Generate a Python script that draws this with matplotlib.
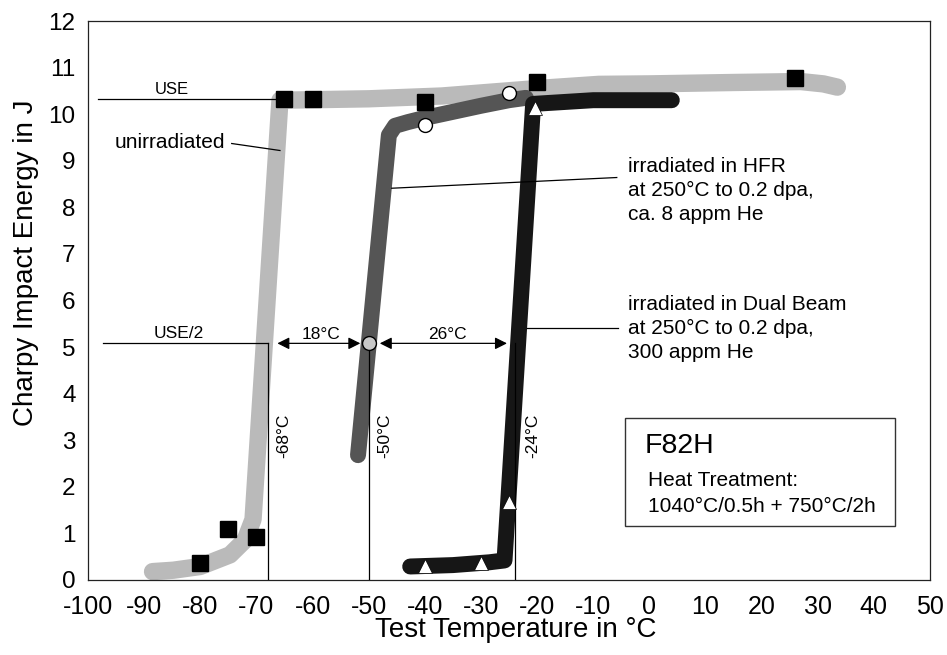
import matplotlib
matplotlib.use("Agg")
import matplotlib.pyplot as plt
from matplotlib.patches import Rectangle

plt.rcParams['font.family'] = ['Liberation Sans', 'DejaVu Sans']
plt.rcParams['axes.unicode_minus'] = False

# Charpy test results (temperature in °C, absorbed energy in J)
unirr_T = [-80, -75, -70, -65, -60, -40, -20, 26]
unirr_E = [0.37, 1.09, 0.92, 10.33, 10.33, 10.27, 10.70, 10.78]

hfr_T = [-40, -25]
hfr_E = [9.77, 10.45]

dual_T = [-40, -30, -25, -20.4]
dual_E = [0.29, 0.36, 1.67, 10.13]

# Smoothed transition curves drawn as thick bands
unirr_fit_T = [-88.5, -84.8, -80, -74.7, -72, -70.6, -65.8, -60, -50, -37, -20, -9, 0, 15, 27, 31, 33.5]
unirr_fit_E = [0.18, 0.21, 0.29, 0.54, 0.86, 1.3, 10.3, 10.31, 10.33, 10.39, 10.55, 10.64, 10.65, 10.68, 10.7, 10.65, 10.58]

hfr_fit_T = [-51.9, -46.4, -45.3, -43, -40, -35, -30, -25, -22]
hfr_fit_E = [2.68, 9.55, 9.75, 9.83, 9.92, 10.05, 10.18, 10.3, 10.35]

dual_fit_T = [-42.6, -35, -28.5, -25.8, -20.7, -10, 4]
dual_fit_E = [0.29, 0.32, 0.38, 0.42, 10.22, 10.3, 10.3]

# Upper shelf energy and ductile-to-brittle transition temperatures
use_level = 10.32
use_half = 5.08
dbtt_unirr, dbtt_hfr, dbtt_dual = -68, -50, -24

x_ticks = list(range(-100, 51, 10))
y_ticks = list(range(0, 13))

fig = plt.figure(figsize=(9.47, 6.55), dpi=100)
ax = fig.add_axes([88 / 947, 75 / 655, 842 / 947, 559 / 655])

band = dict(solid_capstyle='round', solid_joinstyle='round')
ax.plot(unirr_fit_T, unirr_fit_E, color='#bababa', lw=12.5, zorder=2, **band)
ax.plot(hfr_fit_T, hfr_fit_E, color='#555555', lw=11.5, zorder=3, **band)
ax.plot(dual_fit_T, dual_fit_E, color='#161616', lw=11.5, zorder=4, **band)

# Reference lines for USE and USE/2
thin = dict(color='black', lw=0.9, zorder=5)
ax.plot([-98.2, -66.5], [use_level, use_level], **thin)
ax.plot([-97.3, dbtt_unirr], [use_half, use_half], **thin)
for t in (dbtt_unirr, dbtt_hfr, dbtt_dual):
    ax.plot([t, t], [0, use_half], **thin)

ax.text(-85.1, 10.43, "USE", fontsize=12, ha='center', va='baseline')
ax.text(-83.8, 5.19, "USE/2", fontsize=12.5, ha='center', va='baseline')

# Temperature shifts between the curves
arrow = dict(arrowstyle='<|-|>', color='black', lw=0.9, mutation_scale=18)
ax.annotate('', xy=(dbtt_unirr, use_half), xytext=(dbtt_hfr, use_half),
            arrowprops=dict(shrinkA=6, shrinkB=7, **arrow), zorder=6)
ax.annotate('', xy=(dbtt_dual, use_half), xytext=(dbtt_hfr, use_half),
            arrowprops=dict(shrinkA=8, shrinkB=5.5, **arrow), zorder=6)
ax.text((dbtt_unirr + dbtt_hfr) / 2 + 0.5, 5.17, f"{dbtt_hfr - dbtt_unirr}°C",
        fontsize=12.5, ha='center', va='baseline')
ax.text((dbtt_hfr + dbtt_dual) / 2 + 1.1, 5.17, f"{dbtt_dual - dbtt_hfr}°C",
        fontsize=12.5, ha='center', va='baseline')

for t, xoff in ((dbtt_unirr, 2.8), (dbtt_hfr, 2.9), (dbtt_dual, 3.2)):
    ax.text(t + xoff, 3.1, f"{t}°C", fontsize=12.5, rotation=90,
            ha='center', va='center')

# Data markers
ax.plot(unirr_T, unirr_E, 's', color='black', ms=11, zorder=8, ls='none')
ax.plot(hfr_T, hfr_E, 'o', mfc='white', mec='black', mew=1.0, ms=10, zorder=8, ls='none')
ax.plot([dbtt_hfr], [use_half], 'o', mfc='#c8c8c8', mec='black', mew=1.0, ms=10, zorder=8)
ax.plot(dual_T, dual_E, '^', mfc='white', mec='black', mew=0.5, ms=10, zorder=8, ls='none')

# Curve labels with leader lines
ax.text(-95.2, 9.27, "unirradiated", fontsize=15, ha='left', va='baseline')
ax.plot([-74.4, -65.8], [9.37, 9.22], **thin)

ax.text(-3.87, 7.73, "irradiated in HFR\nat 250°C to 0.2 dpa,\nca. 8 appm He",
        fontsize=15, ha='left', va='baseline', linespacing=1.33)
ax.plot([-45.9, -5.8], [8.41, 8.64], **thin)

ax.text(-3.8, 4.76, "irradiated in Dual Beam\nat 250°C to 0.2 dpa,\n300 appm He",
        fontsize=15, ha='left', va='baseline', linespacing=1.33)
ax.plot([-21.85, -5.5], [5.40, 5.40], **thin)

# Material info box
ax.add_patch(Rectangle((-4.33, 1.16), 48.1, 2.31, fill=False,
                       edgecolor='#333333', lw=1.0, zorder=5))
ax.text(-0.77, 2.72, "F82H", fontsize=20.5, ha='left', va='baseline')
ax.text(-0.17, 1.47, "Heat Treatment:\n1040°C/0.5h + 750°C/2h",
        fontsize=15, ha='left', va='baseline', linespacing=1.45)

ax.set_xlim(-100, 50)
ax.set_ylim(0, 12)
ax.set_xticks(x_ticks)
ax.set_yticks(y_ticks)
ax.tick_params(axis='x', length=0, pad=11, labelsize=18)
ax.tick_params(axis='y', length=0, pad=9, labelsize=17.5)
for s in ax.spines.values():
    s.set_linewidth(0.9)
    s.set_color('#222222')

ax.set_xlabel("Test Temperature in °C", fontsize=20)
ax.xaxis.set_label_coords(0.508, -0.066)
ax.set_ylabel("Charpy Impact Energy in J", fontsize=20)
ax.yaxis.set_label_coords(-0.058, 0.567)

fig.savefig("out.png", dpi=100)
